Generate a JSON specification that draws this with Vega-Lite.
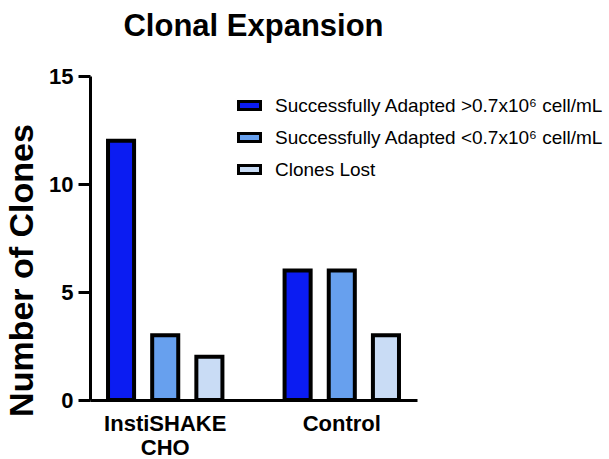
{
  "$schema": "https://vega.github.io/schema/vega-lite/v6.json",
  "width": 327,
  "height": 324,
  "autosize": {"type": "none"},
  "padding": {"left": 90, "top": 76, "right": 192, "bottom": 59},
  "background": "white",
  "title": {
    "text": "Clonal Expansion",
    "font": "Liberation Sans",
    "fontSize": 31,
    "fontWeight": "bold",
    "color": "black",
    "anchor": "middle",
    "frame": "group",
    "offset": 22
  },
  "data": {
    "values": [
      {"group": "InstiSHAKE CHO", "category": "Successfully Adapted >0.7x10⁶ cell/mL", "count": 12},
      {"group": "InstiSHAKE CHO", "category": "Successfully Adapted <0.7x10⁶ cell/mL", "count": 3},
      {"group": "InstiSHAKE CHO", "category": "Clones Lost", "count": 2},
      {"group": "Control", "category": "Successfully Adapted >0.7x10⁶ cell/mL", "count": 6},
      {"group": "Control", "category": "Successfully Adapted <0.7x10⁶ cell/mL", "count": 6},
      {"group": "Control", "category": "Clones Lost", "count": 3}
    ]
  },
  "mark": {"type": "bar", "stroke": "black", "strokeWidth": 4},
  "encoding": {
    "x": {
      "field": "group",
      "type": "nominal",
      "sort": null,
      "scale": {"paddingInner": 0.252, "paddingOuter": 0.052},
      "axis": {
        "title": null,
        "labelAngle": 0,
        "ticks": false,
        "domainColor": "black",
        "domainWidth": 3,
        "labelFont": "Liberation Sans",
        "labelFontSize": 22,
        "labelFontWeight": "bold",
        "labelColor": "black",
        "labelPadding": 13,
        "labelLineHeight": 24,
        "labelExpr": "datum.label == 'InstiSHAKE CHO' ? ['InstiSHAKE', 'CHO'] : datum.label"
      }
    },
    "xOffset": {
      "field": "category",
      "type": "nominal",
      "sort": null,
      "scale": {"paddingInner": 0.41, "paddingOuter": 0.2}
    },
    "y": {
      "field": "count",
      "type": "quantitative",
      "scale": {"domain": [0, 15], "nice": false},
      "axis": {
        "title": "Number of Clones",
        "titleFont": "Liberation Sans",
        "titleFontSize": 34,
        "titleFontWeight": "bold",
        "titleColor": "black",
        "titlePadding": 9,
        "titleAnchor": "middle",
        "titleY": 194,
        "values": [0, 5, 10, 15],
        "grid": false,
        "domainColor": "black",
        "domainWidth": 3,
        "tickColor": "black",
        "tickWidth": 3,
        "tickSize": 12,
        "labelFont": "Liberation Sans",
        "labelFontSize": 22,
        "labelFontWeight": "bold",
        "labelColor": "black",
        "labelPadding": 5
      }
    },
    "color": {
      "field": "category",
      "type": "nominal",
      "sort": null,
      "scale": {
        "domain": ["Successfully Adapted >0.7x10⁶ cell/mL", "Successfully Adapted <0.7x10⁶ cell/mL", "Clones Lost"],
        "range": ["#0b1cf2", "#67a0ee", "#c9dcf5"]
      },
      "legend": {
        "title": null,
        "orient": "none",
        "legendX": 147,
        "legendY": 17,
        "padding": 0,
        "symbolType": "M-1,-0.36H1V0.36H-1Z",
        "symbolSize": 484,
        "symbolStrokeColor": "black",
        "symbolStrokeWidth": 3,
        "labelFont": "Liberation Sans",
        "labelFontSize": 19,
        "labelColor": "black",
        "labelOffset": 13,
        "labelLimit": 400,
        "rowPadding": 9
      }
    }
  },
  "config": {"view": {"stroke": null}}
}
